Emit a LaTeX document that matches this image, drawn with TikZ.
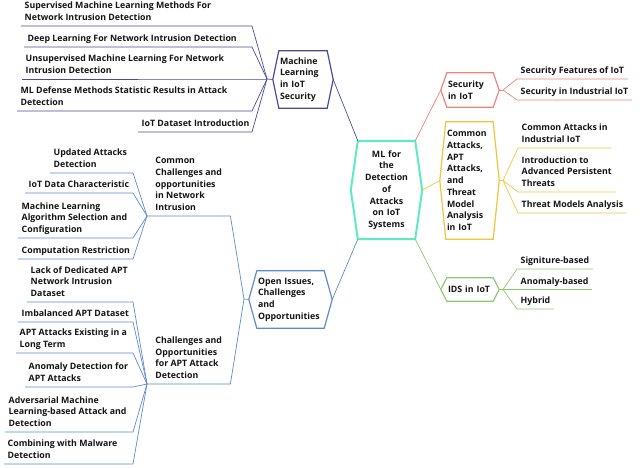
\documentclass[tikz,border=0pt]{standalone}
\usepackage{fontspec}
\setmainfont{Open Sans}
\definecolor{cenc}{HTML}{5EEAC4}
\definecolor{mlc}{HTML}{4B4A9A}
\definecolor{opc}{HTML}{5E8BD0}
\definecolor{secc}{HTML}{E8857A}
\definecolor{attc}{HTML}{F0C43C}
\definecolor{idsc}{HTML}{8CC872}
\definecolor{txt}{HTML}{141414}
\newcommand\tf{\fontsize{8.8}{11.7}\selectfont\bfseries\hyphenpenalty=10000\relax}
\newcommand\hexdraw[3]{\draw[#3] (#1.north west) -- (#1.north east) -- ([xshift=#2]#1.east) -- (#1.south east) -- (#1.south west) -- ([xshift=-#2]#1.west) -- cycle;}
\tikzset{
  hx/.style={inner xsep=1pt, inner ysep=0pt, align=left, font=\tf, text=txt},
  leaf/.style={inner xsep=3.5pt, inner ysep=2.2pt, text depth=3pt, align=left, font=\tf, text=txt, anchor=south west},
  mid/.style={leaf, inner xsep=0pt, minimum width=83pt},
  con/.style={line width=0.7pt, line join=round},
  hexb/.style={line width=1.2pt, line join=miter},
}
\begin{document}
\begin{tikzpicture}[x=1pt,y=-1pt]
\useasboundingbox (0,0) rectangle (640,468);
% ---- hexagon nodes
\node[hx, text width=55pt, align=center, minimum height=98pt] (c) at (386.5,190) {ML for\\the\\Detection\\of\\Attacks\\on IoT\\Systems};
\node[hx, text width=46pt, minimum height=57pt] (ml) at (303,79.5) {Machine\\Learning\\in IoT\\Security};
\node[hx, text width=65pt, minimum height=57pt] (op) at (290.5,299.5) {Open Issues,\\Challenges\\and\\Opportunities};
\node[hx, text width=44pt, minimum height=34pt] (sec) at (470,90) {Security\\in IoT};
\node[hx, text width=45pt, minimum height=117pt] (att) at (469.5,180.5) {Common\\Attacks,\\APT\\Attacks,\\and\\Threat\\Model\\Analysis\\in IoT};
\node[hx, text width=44pt, minimum height=23pt] (ids) at (470,289.5) {IDS in IoT};
\hexdraw{c}{7pt}{cenc, line width=2pt}
\hexdraw{ml}{6pt}{mlc, hexb}
\hexdraw{op}{8pt}{opc, hexb}
\hexdraw{sec}{6pt}{secc, hexb}
\hexdraw{att}{6pt}{attc, hexb}
\hexdraw{ids}{6pt}{idsc, hexb}
\coordinate (c-r) at ([xshift=7pt]c.east);
\coordinate (ml-l) at ([xshift=-6pt]ml.west);
\coordinate (ml-r) at ([xshift=6pt]ml.east);
\coordinate (op-l) at ([xshift=-8pt]op.west);
\coordinate (op-r) at ([xshift=8pt]op.east);
\coordinate (sec-l) at ([xshift=-6pt]sec.west);
\coordinate (sec-r) at ([xshift=6pt]sec.east);
\coordinate (att-l) at ([xshift=-6pt]att.west);
\coordinate (att-r) at ([xshift=6pt]att.east);
\coordinate (ids-l) at ([xshift=-6pt]ids.west);
\coordinate (ids-r) at ([xshift=6pt]ids.east);
% ---- main connectors
\draw[con, mlc] (c.north west) -- (ml-r);
\draw[con, opc] (c.south west) -- (op-r);
\draw[con, secc] (c.north east) -- (sec-l);
\draw[con, attc] (c-r) -- (att-l);
\draw[con, idsc] (c.south east) -- (ids-l);
% ---- Machine learning branch
\coordinate (mlj) at (267,79);
\coordinate (mle) at (252,0);
\node[leaf] (m1) at (21,26) {Supervised Machine Learning Methods For\\Network Intrusion Detection};
\node[leaf] (m2) at (24,47) {Deep Learning For Network Intrusion Detection};
\node[leaf] (m3) at (22,79) {Unsupervised Machine Learning For Network\\Intrusion Detection};
\node[leaf] (m4) at (17,111) {ML Defense Methods Statistic Results in Attack\\Detection};
\node[leaf] (m5) at (138,132) {IoT Dataset Introduction};
\draw[con, mlc] (ml-l) -- (mlj);
\foreach \n in {m1,m2,m3,m4,m5}
  \draw[con, mlc] (mlj) -- (mle |- \n.south west) -- (\n.south west);
% ---- Open issues branch
\coordinate (opj) at (244,299);
\draw[con, opc] (op-l) -- (opj);
\node[mid] (cc) at (147,216) {Common\\Challenges and\\opportunities\\in Network\\Intrusion};
\node[mid] (ca) at (147,384) {Challenges and\\Opportunities\\for APT Attack\\Detection};
\draw[con, opc] (opj) -- (cc.south east) -- (cc.south west);
\draw[con, opc] (opj) -- (ca.south east) -- (ca.south west);
\coordinate (lje) at (133,0);
\node[leaf] (c1) at (50,173) {Updated Attacks\\Detection};
\node[leaf] (c2) at (25,193) {IoT Data Characteristic};
\node[leaf] (c3) at (18,238) {Machine Learning\\Algorithm Selection and\\Configuration};
\node[leaf] (c4) at (18,259) {Computation Restriction};
\foreach \n in {c1,c2,c3,c4}
  \draw[con, opc] (cc.south west) -- (lje |- \n.south west) -- (\n.south west);
\node[leaf] (a1) at (27,302) {Lack of Dedicated APT\\Network Intrusion\\Dataset};
\node[leaf] (a2) at (18,322) {Imbalanced APT Dataset};
\node[leaf] (a3) at (16,353) {APT Attacks Existing in a\\Long Term};
\node[leaf] (a4) at (25,387) {Anomaly Detection for\\APT Attacks};
\node[leaf] (a5) at (5,432) {Adversarial Machine\\Learning-based Attack and\\Detection};
\node[leaf] (a6) at (4,464) {Combining with Malware\\Detection};
\foreach \n in {a1,a2,a3,a4,a5,a6}
  \draw[con, opc] (ca.south west) -- (lje |- \n.south west) -- (\n.south west);
% ---- Security branch
\coordinate (secj) at (503,90);
\draw[con, secc] (sec-r) -- (secj);
\node[leaf] (s1) at (517,79) {Security Features of IoT};
\node[leaf] (s2) at (517,100) {Security in Industrial IoT};
\foreach \n in {s1,s2}
  \draw[con, secc] (secj) -- (\n.south west) -- (\n.south east);
% ---- Attacks branch
\coordinate (attj) at (503,180.5);
\draw[con, attc] (att-r) -- (attj);
\node[leaf] (t1) at (518,148) {Common Attacks in\\Industrial IoT};
\node[leaf] (t2) at (518,192) {Introduction to\\Advanced Persistent\\Threats};
\node[leaf] (t3) at (518,213) {Threat Models Analysis};
\foreach \n in {t1,t2,t3}
  \draw[con, attc] (attj) -- (\n.south west) -- (\n.south east);
% ---- IDS branch
\coordinate (idsj) at (503,289.5);
\draw[con, idsc] (ids-r) -- (idsj);
\node[leaf] (d1) at (517,269) {Signiture-based};
\node[leaf] (d2) at (517,289.5) {Anomaly-based};
\node[leaf] (d3) at (517,309) {Hybrid};
\foreach \n in {d1,d2,d3}
  \draw[con, idsc] (idsj) -- (\n.south west) -- (\n.south east);
\end{tikzpicture}
\end{document}
